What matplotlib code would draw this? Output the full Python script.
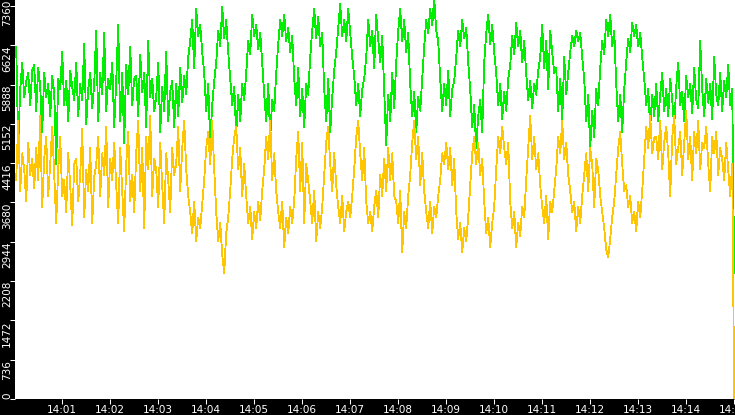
import numpy as np
import matplotlib
matplotlib.use('Agg')
import matplotlib.pyplot as plt
import matplotlib.dates as mdates
import matplotlib.transforms as mtrans

# upper trace (green), one reading every ~2.5 s from 14:00:02 to 14:15:00
green_vals = [
    6600, 4750, 5800, 6300, 5650, 5950, 6100, 5500, 6150, 6250,
    5400, 6200, 5850, 5000, 6100, 5650, 5900, 5300, 6050, 5750,
    4400, 6000, 5800, 6500, 5500, 5950, 5200, 6150, 5850, 5600,
    6300, 5300, 5900, 5600, 6650, 5150, 5800, 6100, 5450, 5900,
    6900, 5200, 6100, 5700, 6850, 5400, 6000, 5800, 6300, 5100,
    5950, 7000, 5200, 6100, 4800, 6250, 5700, 6600, 5500, 6000,
    6050, 5300, 6450, 5750, 6100, 5100, 6700, 5650, 6000, 5400,
    5650, 6300, 5000, 5850, 5400, 6500, 5200, 5750, 5950, 5100,
    5900, 5300, 6200, 5550, 6050, 5700, 6400,
    6700, 7100, 6200, 7300, 6800, 7000, 6500,
    6100, 5400, 5900, 4800, 5500, 5950,
    6300, 6900, 6600, 7350, 6750, 7100, 6500,
    6000, 5500, 5850, 4950, 5700, 5200, 5900, 5600,
    6100, 6700, 6450, 7200, 6800, 7000, 6550, 6850, 6300,
    5700, 5200, 5900, 4900, 5600, 5400,
    6100, 6650, 7100, 6800, 7200, 6700, 6950, 6500, 6800,
    6000, 5500, 6200, 5300, 5800, 5100, 5900, 5700,
    6400, 6900, 7300, 6750, 7150, 6600, 6850,
    5800, 5200, 6000, 5000, 5650, 6150,
    6500, 6950, 7400, 6800, 7100, 6700, 7300, 6850, 6400,
    6050, 5500, 5900, 5300, 5800, 6000,
    6400, 7100, 6600, 6900, 6200, 7200, 6750, 6300, 6800,
    5800, 4750, 5700, 5200, 6100, 5450,
    6300, 6900, 7300, 6700, 7100, 6500, 6850,
    5900, 5300, 5750, 5000, 5650, 5400, 6000,
    6600, 7100, 6850, 7300, 7000, 7500, 6900, 6700,
    6000, 5400, 5900, 5500, 6150, 5300, 5800, 5950,
    6400, 6900, 6600, 7100, 6750, 6950, 6300,
    5800, 5100, 5500, 4700, 5300, 5600, 5000,
    6300, 6850, 7200, 6650, 7000, 6500,
    6100, 5500, 5900, 5250, 5750, 5400, 6000,
    6250, 6800, 6450, 7050, 6600, 6900, 6300, 6700,
    6100, 5600, 5950, 5450, 5900, 5700, 6150,
    6400, 7000, 6200, 6700, 5800, 6900, 6500, 6100,
    6200, 5400, 6000, 5200, 6400, 5700, 6100,
    6500, 6800, 6600, 6900, 6700, 6850, 6400,
    6000, 5200, 5700, 4700, 5400, 4900, 5800, 5500,
    6200, 6700, 6450, 7100, 6800, 7200, 6600, 6900,
    5900, 5200, 5700, 5000, 5800,
    6300, 6750, 6500, 7050, 6800, 7000, 6600, 6850, 6400,
    6000, 5500, 5800, 5100, 5700, 5300,
    5900, 5200, 5700, 6100, 5400, 5800, 5300, 6000, 5600, 5100,
    5850, 6300, 5500, 5750, 5200, 6050, 5650, 5900, 5350, 6200,
    5600, 5450, 6700, 5800, 5300, 6000, 5550, 5900, 5250, 6400,
    5700, 5500, 6100, 5400, 5950, 5650, 6250, 5500, 5800,
    2360,
]

# lower trace (yellow)
yellow_vals = [
    4100, 5200, 3900, 4600, 4300, 3700, 4800, 4200, 4500, 3950,
    4700, 4100, 5300, 3600, 4500, 4900, 3800, 4400, 5100, 4200,
    3300, 4300, 4900, 3800, 4100, 3500, 4600, 4000, 3250, 4400,
    4500, 3700, 4200, 5050, 3400, 4300, 3900, 4700, 3300, 4150,
    4400, 4900, 3800, 4600, 4200, 5100, 3600, 4500, 4100, 4800,
    4000, 3300, 4700, 3900, 3150, 4400, 5000, 3700, 4200, 3500,
    4600, 5200, 3900, 4700, 3200, 4900, 4300, 5300, 3800, 4500,
    4300, 3600, 4800, 4000, 3300, 4600, 4100, 3500, 4700, 4200,
    4400, 5100, 3900, 4700, 5200, 4300, 3800,
    3500, 3100, 3700, 2950, 3400, 3200, 3650,
    4100, 4700, 5000, 4400, 5200, 4300,
    3500, 2950, 3300, 2700, 2360, 3100, 3400,
    3900, 4500, 4900, 5100, 4300, 4700, 3800, 4400,
    3800, 3300, 3600, 3000, 3500, 3200, 3700, 3350, 3900,
    4300, 4900, 4500, 5200, 4100, 4600,
    3900, 3500, 3200, 3700, 2850, 3400, 3100, 3600, 3300,
    3700, 4500, 5000, 3900, 4800, 3300, 4400, 4100,
    3700, 3300, 3900, 2950, 3500, 3200, 3600,
    4200, 4800, 5100, 4400, 3900, 4600,
    4000, 3600, 3300, 3800, 3150, 3500, 3700, 3400, 3800,
    4300, 4900, 5200, 4600, 4100, 4700,
    3700, 3300, 3500, 3150, 3600, 3900, 3400, 4200, 3800,
    4500, 3900, 4700, 4100, 4600, 3800,
    3700, 3300, 3900, 2750, 3500, 3200, 3800,
    4200, 4800, 5200, 4500, 4900, 4000, 4600,
    3900, 3500, 3200, 3700, 3100, 3600, 3400, 3800,
    4100, 4600, 4400, 4800, 4300, 4700, 4000, 4500,
    3500, 3000, 3300, 2750, 3200, 2950, 3400,
    4000, 4600, 4900, 4400, 4800, 4200, 4500,
    3700, 3100, 3400, 2850, 3300, 3600,
    4300, 4900, 4600, 5100, 4700, 4400, 4800,
    3700, 3200, 3500, 2850, 3300, 3050, 3600, 3400,
    4100, 4700, 5300, 4500, 4900, 4300, 4600,
    4000, 3600, 3300, 3800, 3000, 3700, 3500, 3900,
    4300, 4900, 4600, 5200, 4500, 4800, 4200,
    3900, 3500, 3700, 3150, 3600, 3300, 3800,
    4200, 4600, 3900, 4700, 4400, 3600, 4500, 4300,
    3800, 3500, 3200, 2800, 2650, 3000, 3400, 3700,
    4200, 4700, 5000, 4400, 3900,
    4000, 3600, 3800, 3300, 3500, 3150, 3700, 3400, 3900,
    4500, 5100, 4700, 5300, 4600, 4900,
    4900, 4500, 5200, 4300, 4800, 5100, 4600, 3800, 4900, 5300,
    4400, 4700, 5000, 4200, 4800, 5400, 4500, 4900, 4100, 5000,
    4600, 5200, 4300, 4800, 4700, 5100, 4400, 3900, 4900, 4600,
    5000, 4200, 4700, 4500, 4100, 4800, 4300, 3800, 4400,
    0,
]

y_ticks = [0, 736, 1472, 2208, 2944, 3680, 4416, 5152, 5888, 6624, 7360]
y_labels = [str(v) for v in y_ticks]
y_top = 7472

t0 = np.datetime64('2024-01-01T14:00:00')


def times(n):
    ms = (np.linspace(2.5, 900, n) * 1000).astype('int64')
    return t0 + ms.astype('timedelta64[ms]')


fig = plt.figure(figsize=(7.35, 4.15), dpi=100, facecolor='black')
ax = fig.add_axes([15 / 735, 16 / 415, 720 / 735, 399 / 415])
ax.set_facecolor('white')
for s in ax.spines.values():
    s.set_visible(False)

ax.plot(times(len(green_vals)), green_vals, color='#00ee00', lw=0.6,
        antialiased=False)
ax.plot(times(len(yellow_vals)), yellow_vals, color='#ffc600', lw=0.6,
        antialiased=False)

ax.set_xlim(t0 + np.timedelta64(1, 's'), t0 + np.timedelta64(901, 's'))
ax.set_ylim(0, y_top)

ax.xaxis.set_major_locator(mdates.MinuteLocator())
ax.xaxis.set_major_formatter(mdates.DateFormatter('%H:%M'))
ax.tick_params(axis='both', colors='white', length=3.6, width=0.75,
               direction='out', labelsize=7.5, pad=0.5)
ax.set_yticks(y_ticks)
ax.set_yticklabels([])

# rotated y labels, kept inside the black band
trans = mtrans.blended_transform_factory(ax.transAxes, ax.transData)
for v, lab in zip(y_ticks, y_labels):
    y, va = v, 'top'
    if v == 0:
        va = 'bottom'
    if v == y_ticks[-1]:
        y = y_top
    ax.text(-3 / 720, y, lab, transform=trans, rotation=90, ha='right',
            va=va, color='white', fontsize=7.5)

fig.savefig('out.png', dpi=100, facecolor='black')
